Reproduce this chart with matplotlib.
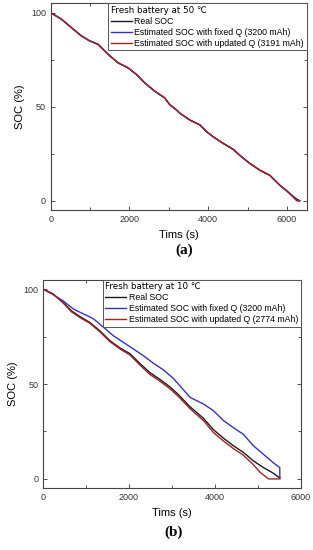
import matplotlib
matplotlib.use('Agg')
from matplotlib import pyplot as plt
from matplotlib.ticker import MultipleLocator

plt.rcParams['font.family'] = ['Liberation Sans', 'DejaVu Sans']

# (a) 50 ℃ 数据
t_a = [0, 269, 523, 776, 989, 1200, 1454, 1707, 1961, 2172, 2385, 2638, 2892, 3027, 3186,
       3280, 3534, 3788, 3958, 4125, 4379, 4633, 4846, 5056, 5310, 5563, 5817, 6028, 6198, 6250, 6320]
real_a = [100, 96.6, 92.1, 87.7, 85.0, 83.2, 77.9, 73.4, 70.7, 67.2, 62.7, 58.3, 54.7, 51.0, 48.4,
          46.5, 42.9, 40.3, 36.7, 34.0, 30.5, 27.3, 23.3, 19.8, 16.2, 13.5, 8.2, 4.6, 1.6, 0.8, 0]
fixed_a = [100, 96.6, 92.1, 87.7, 85.0, 83.2, 77.9, 73.4, 70.7, 67.2, 62.7, 58.3, 54.7, 51.0, 48.4,
           46.5, 42.9, 40.3, 36.7, 34.0, 30.5, 27.3, 23.3, 19.8, 16.2, 13.5, 8.2, 4.6, 1.1, 0, 0]
upd_a = [100, 96.6, 92.1, 87.7, 85.0, 83.2, 77.9, 73.4, 70.7, 67.2, 62.7, 58.3, 54.7, 51.0, 48.4,
         46.5, 42.9, 40.3, 36.7, 34.0, 30.5, 27.3, 23.3, 19.8, 16.2, 13.5, 8.2, 4.6, 1.1, 0, 0]

# (b) 10 ℃ 数据
t_real_b = [0, 233, 466, 662, 895, 1089, 1322, 1555, 1788, 2021, 2254, 2487, 2720, 2953, 3147,
            3420, 3730, 3963, 4196, 4429, 4662, 4895, 5128, 5361, 5510]
real_b = [100, 97.4, 93.0, 88.5, 85.0, 82.4, 78.0, 72.8, 69.0, 66.0, 60.8, 56.0, 52.4, 48.5, 44.5,
          38.0, 32.0, 26.0, 21.5, 17.5, 14.0, 9.5, 6.0, 3.0, 0.5]
t_fixed_b = [0, 200, 466, 699, 932, 1166, 1399, 1632, 1865, 2098, 2331, 2564, 2797, 3030, 3187,
             3420, 3730, 3963, 4196, 4429, 4662, 4895, 5128, 5361, 5478, 5510, 5512]
fixed_b = [100, 97.5, 93.8, 89.6, 87.0, 84.5, 80.0, 75.5, 72.0, 68.5, 65.0, 61.0, 57.5, 53.0, 49.0,
           43.0, 39.5, 36.0, 30.8, 27.0, 23.5, 17.5, 13.0, 8.5, 6.5, 6.0, 0]
t_upd_b = [0, 233, 466, 662, 895, 1089, 1322, 1555, 1788, 2021, 2254, 2487, 2720, 2953, 3147,
           3420, 3730, 3963, 4196, 4429, 4662, 4895, 5050, 5250, 5480, 5510]
upd_b = [100, 97.4, 92.7, 88.0, 84.5, 82.0, 77.5, 72.3, 68.5, 65.3, 60.0, 55.0, 51.5, 47.5, 43.5,
         37.0, 30.8, 24.5, 20.0, 16.0, 12.5, 7.5, 3.5, 0, 0, 1.0]

labels = ['Real SOC', 'Estimated SOC with fixed Q (3200 mAh)']
upd_label_a = 'Estimated SOC with updated Q (3191 mAh)'
upd_label_b = 'Estimated SOC with updated Q (2774 mAh)'

c_real = '#1a1a1a'
c_fixed = '#3535b0'
c_upd = '#9e2424'


def style_axes(ax, xmax):
    ax.set_xlim(0, xmax)
    ax.set_ylim(-5, 105)
    ax.set_xticks([0, 2000, 4000, 6000])
    ax.set_yticks([0, 50, 100])
    ax.xaxis.set_minor_locator(MultipleLocator(1000))
    ax.yaxis.set_minor_locator(MultipleLocator(25))
    ax.tick_params(which='both', direction='in', top=True, right=True,
                   labelsize=6.5, colors='#333333', width=0.6)
    ax.tick_params(which='major', length=3)
    ax.tick_params(which='minor', length=2)
    for s in ax.spines.values():
        s.set_color('#444444')
        s.set_linewidth(0.8)
    ax.set_xlabel('Tims (s)', fontsize=8, labelpad=4)
    ax.set_ylabel('SOC (%)', fontsize=8, labelpad=4)


def add_legend(ax, title):
    leg = ax.legend(loc='upper right', title=title, alignment='left',
                    fontsize=6.3, title_fontsize=6.3, borderaxespad=0, borderpad=0.3,
                    labelspacing=0.22, handlelength=2.4, handletextpad=0.3,
                    fancybox=False, framealpha=1)
    leg.get_frame().set_edgecolor('#555555')
    leg.get_frame().set_linewidth(0.7)
    leg.get_title().set_family(['DejaVu Sans'])
    return leg


fig = plt.figure(figsize=(3.13, 5.5), dpi=100)

#(a)
ax1 = fig.add_axes([0.162, 0.618, 0.818, 0.376])
ax1.plot(t_a, real_a, color=c_real, lw=1.0, label=labels[0])
ax1.plot(t_a, fixed_a, color=c_fixed, lw=1.0, label=labels[1])
ax1.plot(t_a, upd_a, color=c_upd, lw=1.0, label=upd_label_a)
style_axes(ax1, 6500)
add_legend(ax1, 'Fresh battery at 50 ℃')

#(b)
ax2 = fig.add_axes([0.138, 0.112, 0.823, 0.3795])
ax2.plot(t_real_b, real_b, color=c_real, lw=1.0, label=labels[0])
ax2.plot(t_fixed_b, fixed_b, color=c_fixed, lw=1.0, label=labels[1])
ax2.plot(t_upd_b, upd_b, color=c_upd, lw=1.0, label=upd_label_b)
style_axes(ax2, 6000)
add_legend(ax2, 'Fresh battery at 10 ℃')

# 子图编号
fig.text(0.59, 0.545, '(a)', ha='center', va='center', fontsize=11,
         family='Liberation Serif', fontweight='bold')
fig.text(0.553, 0.033, '(b)', ha='center', va='center', fontsize=11,
         family='Liberation Serif', fontweight='bold')

fig.savefig('out.png', dpi=100)
